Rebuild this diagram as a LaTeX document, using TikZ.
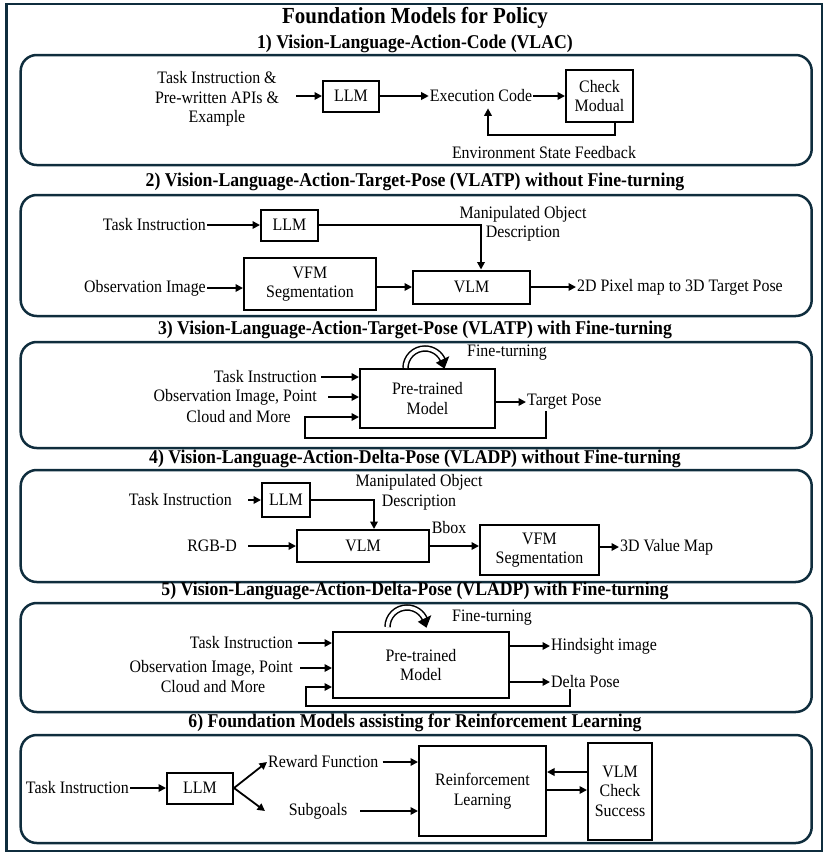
\documentclass[tikz,border=0pt]{standalone}
\usepackage{fontspec}
\setmainfont{Liberation Serif}[FakeStretch=0.91]
\usetikzlibrary{arrows.meta}
\definecolor{framec}{HTML}{0F2D3D}

\begin{document}
\begin{tikzpicture}[x=1pt, y=-1pt,
    font=\fontsize{17.5}{19.5}\selectfont,
    every node/.style={inner sep=1pt},
    block/.style={draw, line width=2pt, align=center, inner sep=2pt},
    panel/.style={draw=framec, line width=2.5pt, rounded corners=16pt},
    head/.style={font=\bfseries\fontsize{19.5}{22}\selectfont},
    arr/.style={line width=1.8pt, -{Triangle[length=7.5pt, width=7.5pt]}},
    band/.style={line width=1.5pt, double=white, double distance=3.5pt}]

    \useasboundingbox (0,0) rectangle (831,857);

    % Frame and panels
    \draw[framec, line width=2.4pt] (6.5,4) rectangle (822,851);
    \draw[panel] (20.7,55) rectangle (811.7,165);
    \draw[panel] (20.7,195) rectangle (811.7,316);
    \draw[panel] (20.7,342) rectangle (811.7,448);
    \draw[panel] (20.7,470) rectangle (811.7,582);
    \draw[panel] (20.7,603) rectangle (811.7,712);
    \draw[panel] (20.7,735) rectangle (811.7,843);

    % Headings
    \node[font=\bfseries\fontsize{23}{27}\selectfont] (title) at (415,18) {Foundation Models for Policy};
    \node[head] (head1) at (415,44) {1) Vision-Language-Action-Code (VLAC)};
    \node[head] (head2) at (415,182) {2) Vision-Language-Action-Target-Pose (VLATP) without Fine-turning};
    \node[head] (head3) at (415,330) {3) Vision-Language-Action-Target-Pose (VLATP) with Fine-turning};
    \node[head] (head4) at (415,459) {4) Vision-Language-Action-Delta-Pose (VLADP) without Fine-turning};
    \node[head] (head5) at (415,591) {5) Vision-Language-Action-Delta-Pose (VLADP) with Fine-turning};
    \node[head] (head6) at (415,723) {6) Foundation Models assisting for Reinforcement Learning};

    % 1) VLAC
    \node[align=center] (in1) at (217,99) {Task Instruction \&\\Pre-written APIs \&\\Example};
    \node[block, minimum width=56pt, minimum height=31pt] (llm1) at (351,96) {LLM};
    \node (code1) at (481,96) {Execution Code};
    \node[block, minimum width=67pt, minimum height=52pt] (chk1) at (599.5,96) {Check\\Modual};
    \node (env1) at (544,153) {Environment State Feedback};
    \coordinate (fb1) at (488,135);

    \draw[arr, shorten <=16pt] (in1.east |- llm1) -- (llm1);
    \draw[arr] (llm1) -- (code1);
    \draw[arr] (code1) -- (chk1);
    \draw[arr] ([xshift=15.5pt]chk1.south) |- (fb1) -- ([xshift=7pt, yshift=-5pt]code1.south);

    % 2) VLATP without fine-turning
    \node[anchor=east] (ti2) at (207,225) {Task Instruction};
    \node[block, minimum width=57pt, minimum height=31pt] (llm2) at (289.5,225) {LLM};
    \node[align=center] (mod2) at (523,224) {Manipulated Object\\Description};
    \node[anchor=east] (ob2) at (207,288) {Observation Image};
    \node[block, minimum width=132pt, minimum height=52pt] (vfm2) at (310,284) {VFM\\Segmentation};
    \node[block, minimum width=117pt, minimum height=33pt] (vlm2) at (471.5,287) {VLM};
    \node[anchor=west] (out2) at (576,287) {2D Pixel map to 3D Target Pose};

    \draw[arr] (ti2) -- (llm2);
    \draw[arr] (llm2) -| ([xshift=9.5pt]vlm2.north);
    \draw[arr] (ob2) -- (ob2 -| vfm2.west);
    \draw[arr] (vlm2 -| vfm2.east) -- (vlm2);
    \draw[arr] (vlm2) -- (out2);

    % 3) VLATP with fine-turning
    \node[anchor=east] (ti3) at (318,377) {Task Instruction};
    \node[anchor=east] (ob3a) at (318,397) {Observation Image, Point};
    \node (ob3b) at (238.5,417) {Cloud and More};
    \node[block, minimum width=135pt, minimum height=59pt] (pt3) at (427.5,398.5) {Pre-trained\\Model};
    \node[anchor=west] (ft3) at (466,353) {Fine-turning};
    \node[anchor=west] (tp3) at (526,402) {Target Pose};
    \coordinate (fb3) at (305,438);

    \draw[arr, shorten <=3pt] (ti3) -- (ti3 -| pt3.west);
    \draw[arr, shorten <=10pt] (ob3a) -- (ob3a -| pt3.west);
    \draw[arr] (tp3 -| pt3.east) -- (tp3);
    \draw[arr] ([xshift=20pt]tp3.south west) |- (fb3) |- (ob3b -| pt3.west);
    \begin{scope}[shift={(425,368)}]
      \draw[band] (180:19.5) arc[start angle=180, end angle=338, radius=19.5];
      \fill (334:12) -- (2:19.5) -- (334:27) -- cycle;
    \end{scope}

    % 4) VLADP without fine-turning
    \node[anchor=east] (ti4) at (233,500) {Task Instruction};
    \node[block, minimum width=48pt, minimum height=34pt] (llm4) at (286,500) {LLM};
    \node[align=center] (mod4) at (419,492.5) {Manipulated Object\\Description};
    \node[anchor=east] (rgb4) at (238,546) {RGB-D};
    \node[block, minimum width=132pt, minimum height=32pt] (vlm4) at (363,546) {VLM};
    \node (bbox4) at (449,528) {Bbox};
    \node[block, minimum width=119pt, minimum height=50pt] (vfm4) at (539.5,550) {VFM\\Segmentation};
    \node[anchor=west] (val4) at (619,547) {3D Value Map};

    \draw[arr, shorten <=15pt] (ti4) -- (llm4);
    \draw[arr] (llm4) -| ([xshift=11pt]vlm4.north);
    \draw[arr, shorten <=10pt] (rgb4) -- (vlm4);
    \draw[arr] (vlm4) -- (vlm4 -| vfm4.west);
    \draw[arr] (val4 -| vfm4.east) -- (val4);

    % 5) VLADP with fine-turning
    \node[anchor=east] (ti5) at (294,643) {Task Instruction};
    \node[anchor=east] (ob5a) at (294,668) {Observation Image, Point};
    \node (ob5b) at (213,687) {Cloud and More};
    \node[block, minimum width=176pt, minimum height=66pt] (pt5) at (421,665) {Pre-trained\\Model};
    \node[anchor=west] (ft5) at (451,618) {Fine-turning};
    \node[anchor=west] (hs5) at (550,646) {Hindsight image};
    \node[anchor=west] (dp5) at (550,682) {Delta Pose};
    \coordinate (fb5) at (306,706);

    \draw[arr, shorten <=4pt] (ti5) -- (ti5 -| pt5.west);
    \draw[arr, shorten <=6pt] (ob5a) -- (ob5a -| pt5.west);
    \draw[arr] (hs5 -| pt5.east) -- (hs5);
    \draw[arr] (dp5 -| pt5.east) -- (dp5);
    \draw[arr] ([xshift=20pt]dp5.south west) |- (fb5) |- (ob5b -| pt5.west);
    \begin{scope}[shift={(407,627)}]
      \draw[band] (180:19.5) arc[start angle=180, end angle=338, radius=19.5];
      \fill (334:12) -- (2:19.5) -- (334:27) -- cycle;
    \end{scope}

    % 6) Reinforcement learning
    \node[anchor=east] (ti6) at (130,788) {Task Instruction};
    \node[block, minimum width=66pt, minimum height=31pt] (llm6) at (200,788) {LLM};
    \node[anchor=west] (rf6) at (267,762) {Reward Function};
    \node (sg6) at (318,811) {Subgoals};
    \coordinate (sgtip) at (265,811);
    \node[block, minimum width=127pt, minimum height=90pt] (rl6) at (482.5,791) {Reinforcement\\Learning};
    \node[block, minimum width=64pt, minimum height=97pt] (vlm6) at (620,791) {VLM\\Check\\Success};

    \draw[arr] (ti6) -- (llm6);
    \draw[arr] (llm6.east) -- (rf6.west);
    \draw[arr] (llm6.east) -- (sgtip);
    \draw[arr, shorten <=3pt] (rf6) -- (rf6 -| rl6.west);
    \draw[arr, shorten <=12pt] (sg6) -- (sg6 -| rl6.west);
    \draw[arr] ([yshift=19pt]vlm6.west) -- ([yshift=19pt]rl6.east);
    \draw[arr] ([yshift=1pt]rl6.east) -- ([yshift=1pt]vlm6.west);

\end{tikzpicture}
\end{document}
